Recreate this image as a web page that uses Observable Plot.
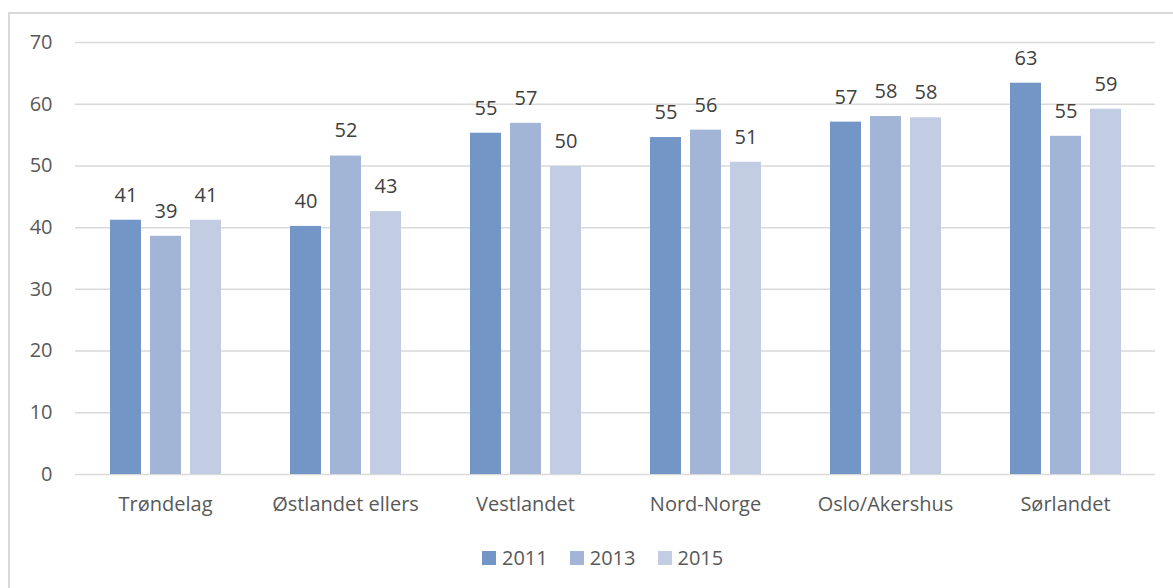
<!DOCTYPE html>
<html>
<head>
<meta charset="utf-8">
<script src="https://cdn.jsdelivr.net/npm/d3@7"></script>
<script src="https://cdn.jsdelivr.net/npm/@observablehq/plot@0.6"></script>
<style>
  html, body { margin: 0; padding: 0; background: #fff; }
  #wrap { position: relative; width: 1173px; height: 588px; overflow: hidden; font-family: "Open Sans", sans-serif; color: #595959; }
  #frame { position: absolute; left: 8px; top: 12px; width: 1200px; height: 620px; border-left: 2px solid #d9d9d9; border-top: 2px solid #d9d9d9; box-sizing: border-box; }
  #chart { position: absolute; left: 0; top: 0; }
  #legend { position: absolute; left: 482px; top: 544px; display: flex; align-items: center; font-size: 20px; }
  #legend .item { display: flex; align-items: center; margin-right: 22px; }
  #legend .sw { width: 14px; height: 14px; margin-right: 6px; }
</style>
</head>
<body>
<div id="wrap">
  <div id="frame"></div>
  <div id="chart"></div>
  <div id="legend"></div>
</div>
<script>
const categories = ["Trøndelag", "Østlandet ellers", "Vestlandet", "Nord-Norge", "Oslo/Akershus", "Sørlandet"];
const years = ["2011", "2013", "2015"];
const values2011 = [41.2, 40.2, 55.3, 54.6, 57.1, 63.4];
const values2013 = [38.6, 51.6, 56.9, 55.8, 58.0, 54.8];
const values2015 = [41.2, 42.6, 49.9, 50.6, 57.8, 59.2];
const colors = ["#7396c6", "#a2b5d6", "#c2cde3"];
const yTicks = [0, 10, 20, 30, 40, 50, 60, 70];

const series = [values2011, values2013, values2015];
const data = [];
categories.forEach((c, i) => {
  years.forEach((y, j) => data.push({category: c, year: y, value: series[j][i]}));
});

const chart = Plot.plot({
  width: 1173,
  height: 530,
  marginLeft: 73,
  marginRight: 17,
  marginTop: 42,
  marginBottom: 56,
  style: {fontFamily: "'Open Sans', sans-serif", fontSize: "20px", color: "#595959", background: "transparent"},
  fx: {domain: categories, padding: 0, label: null},
  x: {domain: years, paddingInner: 0.235, paddingOuter: 0.843, axis: null},
  y: {domain: [0, 70], label: null},
  color: {domain: years, range: colors},
  marks: [
    Plot.gridY(yTicks, {stroke: "#d9d9d9", strokeOpacity: 1, strokeWidth: 1.5}),
    Plot.axisY(yTicks, {tickSize: 0, tickPadding: 23, label: null, fontSize: 20}),
    Plot.axisFx({anchor: "bottom", tickSize: 0, tickPadding: 22, label: null, fontSize: 20}),
    Plot.barY(data, {fx: "category", x: "year", y: "value", fill: "year"}),
    Plot.text(data, {fx: "category", x: "year", y: "value", text: d => d3.format(".0f")(d.value), dy: -25, fontSize: 20, fill: "#404040"})
  ]
});
document.getElementById("chart").appendChild(chart);

const legend = document.getElementById("legend");
years.forEach((y, j) => {
  const item = document.createElement("div");
  item.className = "item";
  const sw = document.createElement("div");
  sw.className = "sw";
  sw.style.background = colors[j];
  const t = document.createElement("span");
  t.textContent = y;
  item.appendChild(sw);
  item.appendChild(t);
  legend.appendChild(item);
});
</script>
</body>
</html>
